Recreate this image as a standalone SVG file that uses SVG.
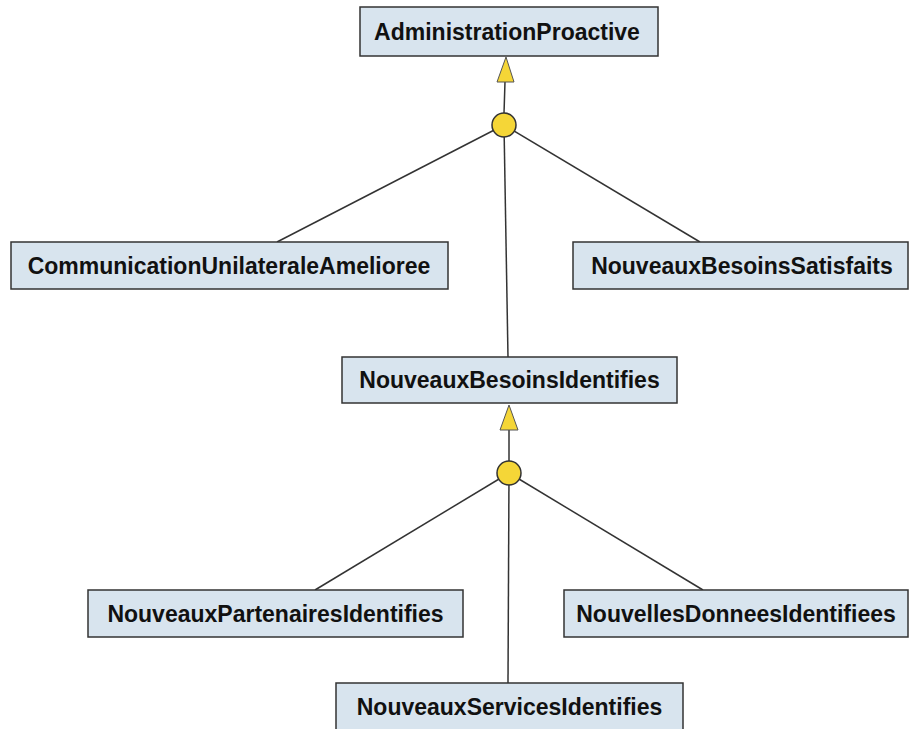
<svg xmlns="http://www.w3.org/2000/svg" width="910" height="729" viewBox="0 0 910 729">
  <style>
    .box { fill: #d8e4ee; stroke: #333; stroke-width: 1.5; }
    .lbl { font-family: "Liberation Sans", Arial, Helvetica, sans-serif; font-weight: bold; font-size: 23px; fill: #111; text-anchor: middle; }
    .edge { stroke: #333; stroke-width: 1.5; fill: none; }
    .join { fill: #f5d637; stroke: #333; stroke-width: 1.5; }
    .head { fill: #f5d637; stroke: #555; stroke-width: 1; }
  </style>

  <g id="connectors">
    <!-- upper refinement -->
    <line class="edge" x1="504" y1="113" x2="505" y2="82"/>
    <polygon class="head" points="506,57 497,82 514,82"/>
    <line class="edge" x1="504" y1="125" x2="277" y2="242"/>
    <line class="edge" x1="504" y1="125" x2="700" y2="242"/>
    <line class="edge" x1="504" y1="125" x2="508" y2="357"/>
    <circle class="join" cx="504" cy="125" r="12"/>

    <!-- lower refinement -->
    <line class="edge" x1="509" y1="461" x2="509" y2="429"/>
    <polygon class="head" points="509,405 500,430 518,430"/>
    <line class="edge" x1="509" y1="473" x2="315" y2="590"/>
    <line class="edge" x1="509" y1="473" x2="703" y2="590"/>
    <line class="edge" x1="509" y1="473" x2="508" y2="683"/>
    <circle class="join" cx="509" cy="473" r="12"/>
  </g>

  <g id="AdministrationProactive">
    <rect class="box" x="360" y="7" width="298" height="49"/>
    <text class="lbl" x="507" y="40">AdministrationProactive</text>
  </g>

  <g id="CommunicationUnilateraleAmelioree">
    <rect class="box" x="11" y="242" width="437" height="47"/>
    <text class="lbl" x="229" y="274">CommunicationUnilateraleAmelioree</text>
  </g>

  <g id="NouveauxBesoinsSatisfaits">
    <rect class="box" x="573" y="242" width="335" height="47"/>
    <text class="lbl" x="742" y="274">NouveauxBesoinsSatisfaits</text>
  </g>

  <g id="NouveauxBesoinsIdentifies">
    <rect class="box" x="342" y="357" width="335" height="46"/>
    <text class="lbl" x="509.5" y="388">NouveauxBesoinsIdentifies</text>
  </g>

  <g id="NouveauxPartenairesIdentifies">
    <rect class="box" x="88" y="590" width="375" height="47"/>
    <text class="lbl" x="275.5" y="622">NouveauxPartenairesIdentifies</text>
  </g>

  <g id="NouvellesDonneesIdentifiees">
    <rect class="box" x="564" y="590" width="344" height="47"/>
    <text class="lbl" x="736" y="622">NouvellesDonneesIdentifiees</text>
  </g>

  <g id="NouveauxServicesIdentifies">
    <rect class="box" x="336" y="683" width="347" height="50"/>
    <text class="lbl" x="509.5" y="715">NouveauxServicesIdentifies</text>
  </g>
</svg>
